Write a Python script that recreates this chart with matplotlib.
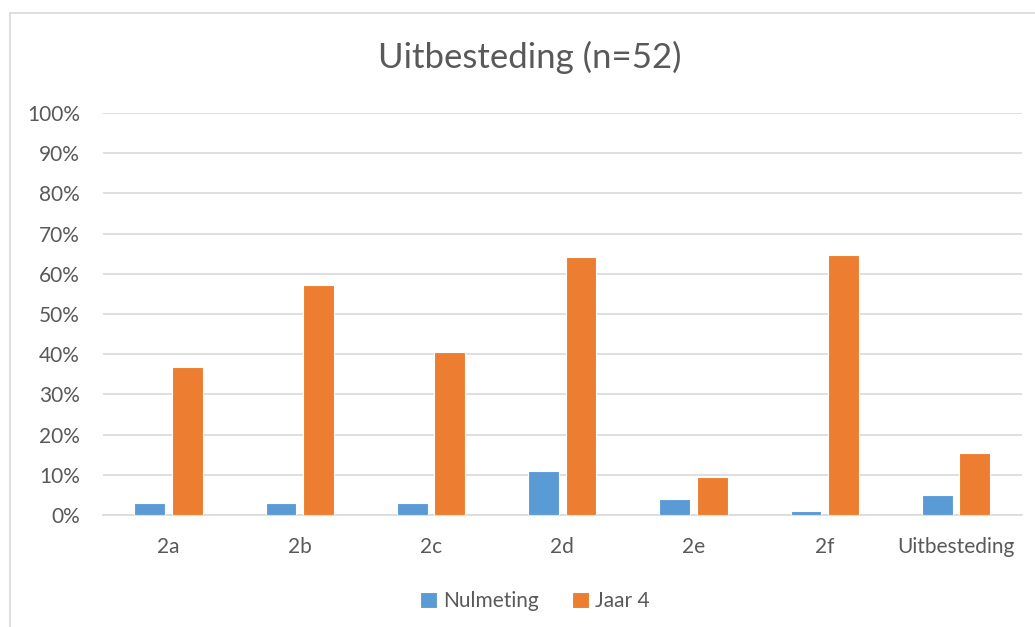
import numpy as np
import matplotlib.pyplot as plt
from matplotlib.lines import Line2D

plt.rcParams['font.family'] = ['Lato', 'DejaVu Sans']

categories = ['2a', '2b', '2c', '2d', '2e', '2f', 'Uitbesteding']
nulmeting = [3, 3, 3, 11, 4, 1, 5]
jaar4 = [36.7, 57.1, 40.5, 64.2, 9.5, 64.7, 15.4]

blue = '#5b9bd5'
orange = '#ed7d31'
grey = '#595959'

fig = plt.figure(figsize=(10.35, 6.27), dpi=100)
ax = fig.add_axes([0.0995, 0.1786, 0.8875, 0.6412])

x = np.arange(len(categories))
w = 0.235
ax.bar(x - 0.143, nulmeting, w, color=blue, edgecolor='white', linewidth=0.8, label='Nulmeting', zorder=3)
ax.bar(x + 0.143, jaar4, w, color=orange, edgecolor='white', linewidth=0.8, label='Jaar 4', zorder=3)

ax.set_xlim(-0.5, len(categories) - 0.5)
ax.set_ylim(0, 100)
ax.set_yticks(range(0, 101, 10))
ax.set_yticklabels([f'{v}%' for v in range(0, 101, 10)])
ax.set_xticks(x)
ax.set_xticklabels(categories)
ax.yaxis.grid(True, color='#d9d9d9', linewidth=1.2, zorder=0)
for s in ['top', 'right', 'left']:
    ax.spines[s].set_visible(False)
ax.spines['bottom'].set_color('#d9d9d9')
ax.spines['bottom'].set_linewidth(1.2)
ax.tick_params(axis='both', length=0, labelsize=15, colors=grey)
ax.tick_params(axis='y', pad=16.5)
ax.tick_params(axis='x', pad=16)

fig.text(0.512, 0.908, 'Uitbesteding (n=52)', ha='center', va='center', fontsize=25, color=grey)

ax.legend(loc='upper center', bbox_to_anchor=(0.47, -0.143), ncol=2, frameon=False,
          fontsize=15, labelcolor=grey, handlelength=0.8, handleheight=0.8,
          handletextpad=0.3, columnspacing=1.6)

# outer chart frame
fig.add_artist(Line2D([10 / 1035, 10 / 1035], [0, 1 - 13 / 627], color='#d9d9d9', lw=1.2))
fig.add_artist(Line2D([10 / 1035, 1], [1 - 13 / 627, 1 - 13 / 627], color='#d9d9d9', lw=1.2))

fig.savefig('out.png', dpi=100)
